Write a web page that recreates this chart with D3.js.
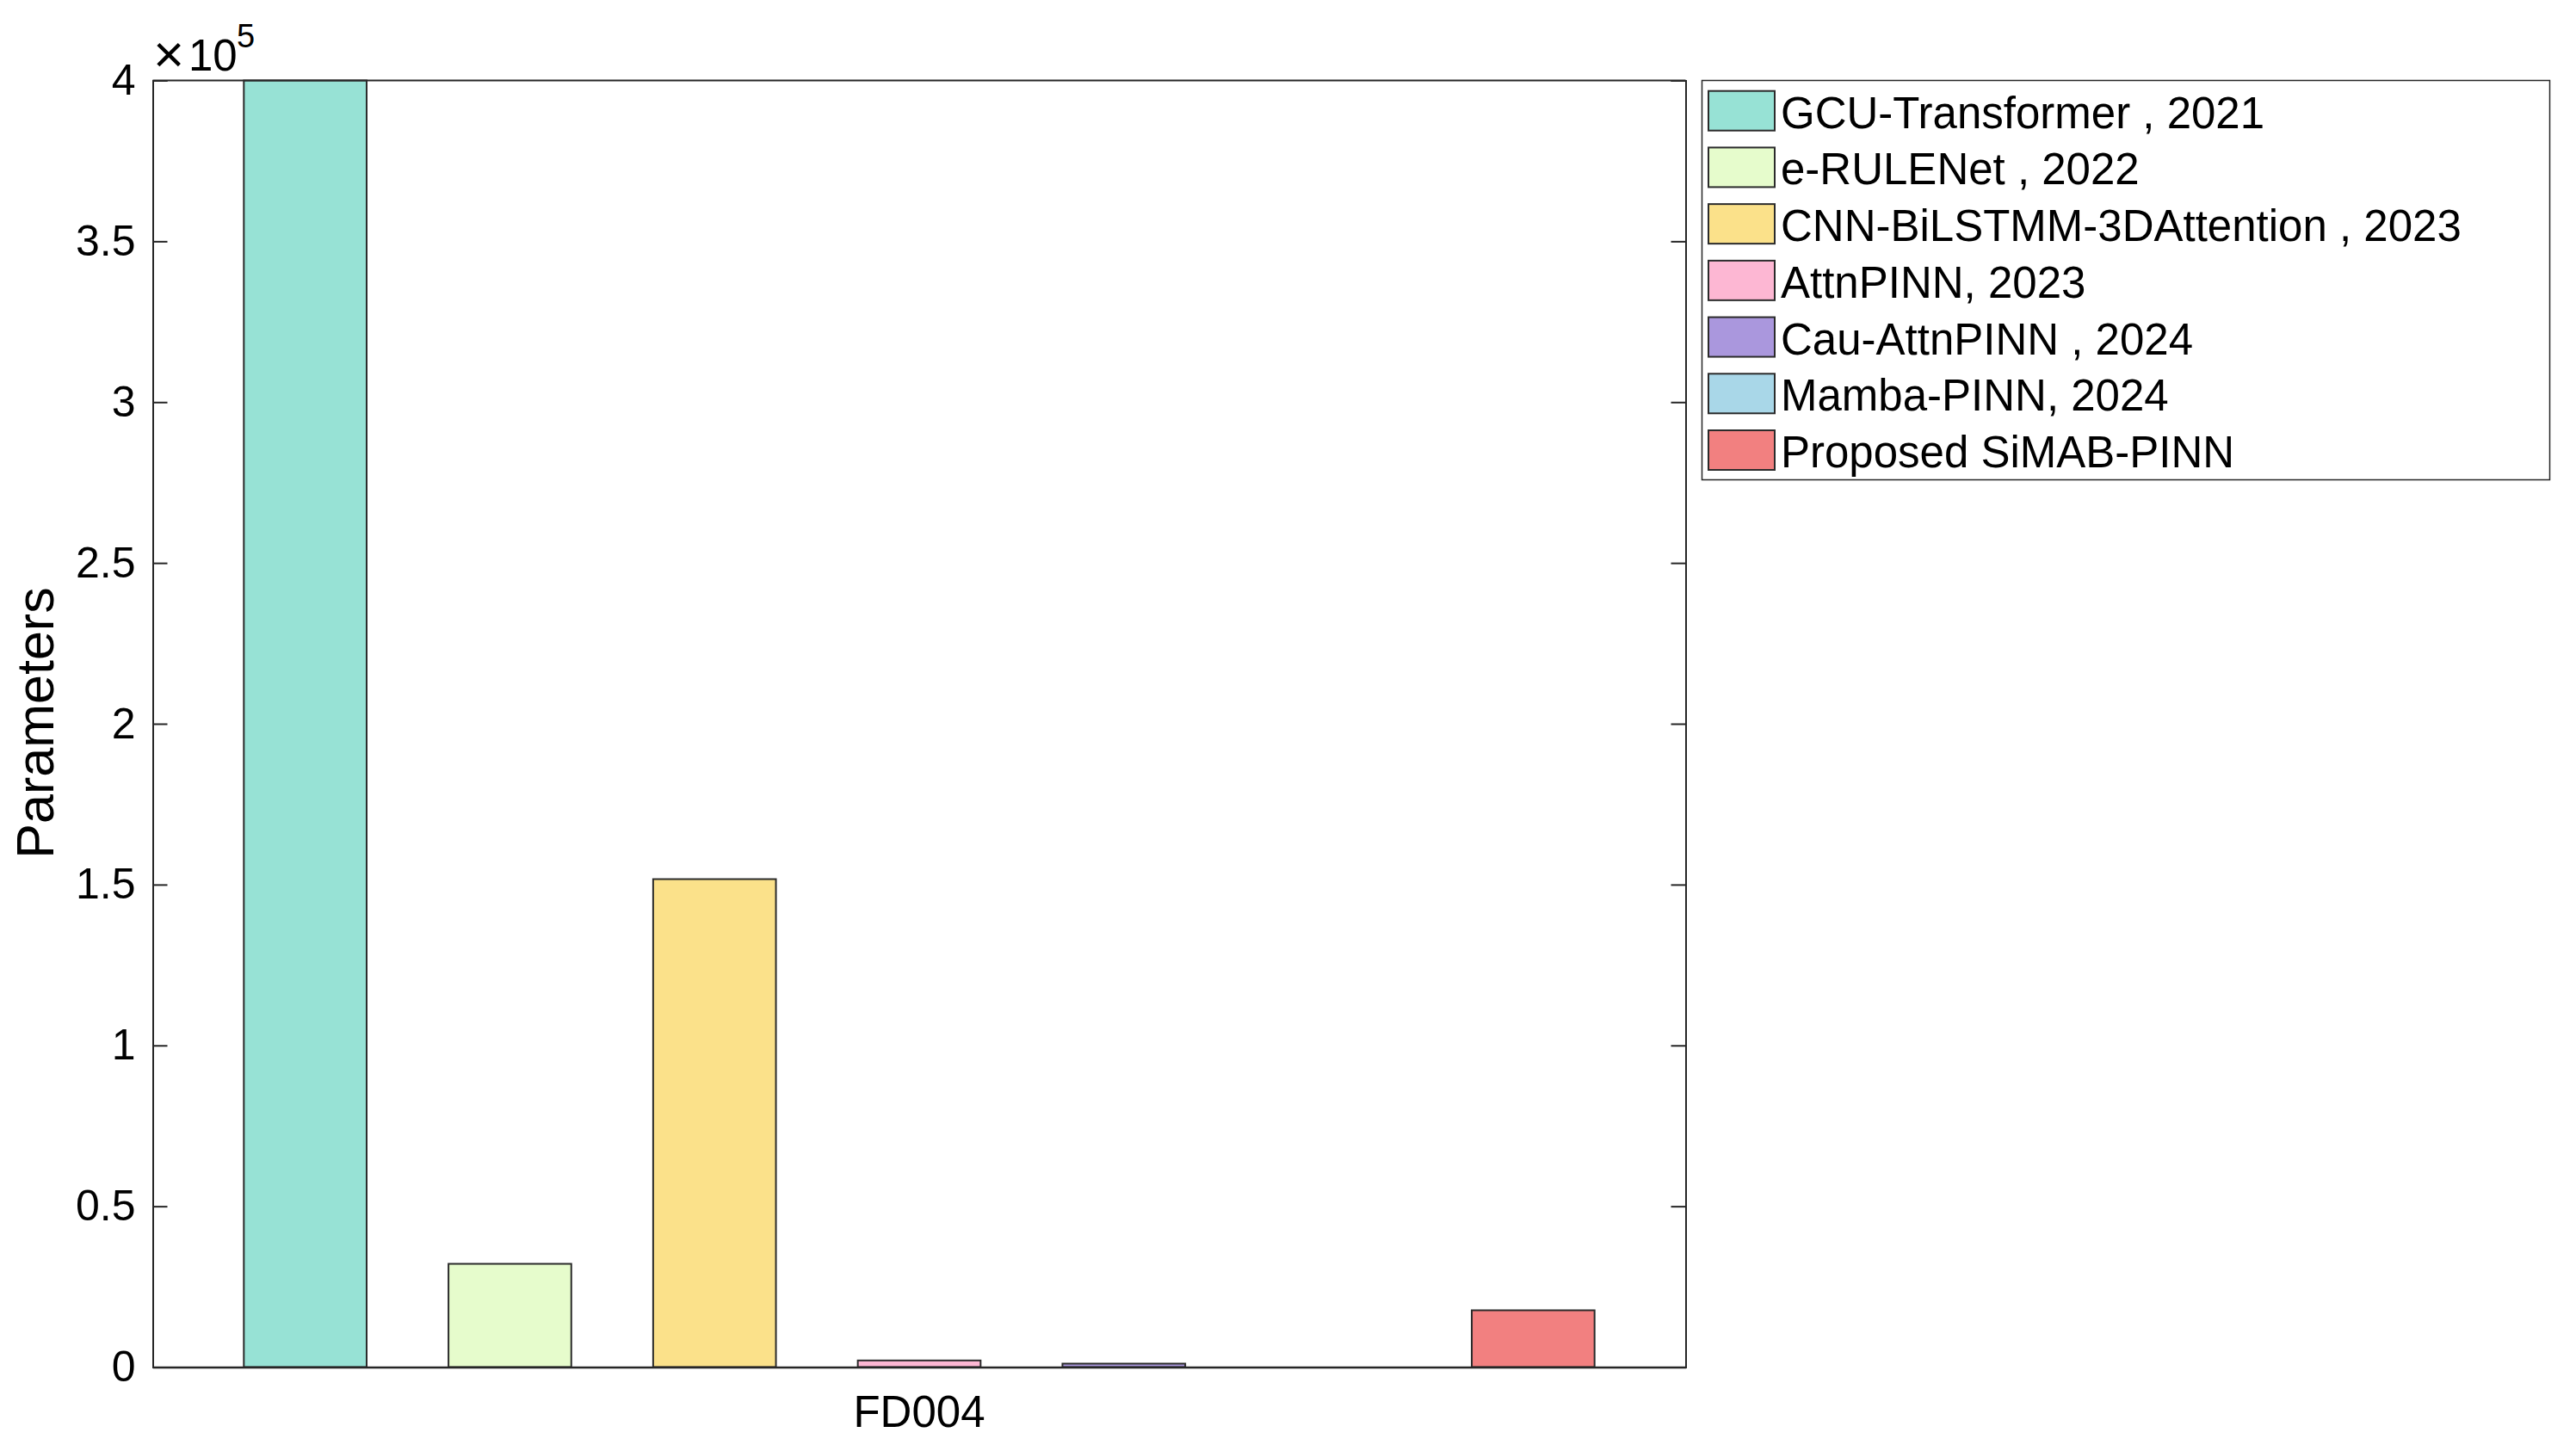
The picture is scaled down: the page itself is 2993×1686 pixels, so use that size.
<!DOCTYPE html>
<html>
<head>
<meta charset="utf-8">
<script src="https://cdn.jsdelivr.net/npm/d3@7"></script>
<style>
  html, body { margin: 0; padding: 0; background: #fff; }
  text { font-family: "Liberation Sans", Arial, Helvetica, sans-serif; fill: #000; }
</style>
</head>
<body>
<svg id="chart" width="2993" height="1686"></svg>
<script>
// ---- data ----
const category = "FD004";
const models = [
  "GCU-Transformer , 2021",
  "e-RULENet , 2022",
  "CNN-BiLSTMM-3DAttention , 2023",
  "AttnPINN, 2023",
  "Cau-AttnPINN , 2024",
  "Mamba-PINN, 2024",
  "Proposed SiMAB-PINN"
];
const params = [400000, 32100, 151700, 2060, 1070, 0, 17660];
const colors = ["#97E2D5", "#E6FCCC", "#FBE18A", "#FDB7D3", "#AA97DD", "#A9D7E8", "#F28080"];
const yTicks = [0, 50000, 100000, 150000, 200000, 250000, 300000, 350000, 400000];
const yTickLabels = ["0", "0.5", "1", "1.5", "2", "2.5", "3", "3.5", "4"];
const yLabel = "Parameters";

// ---- layout ----
const svg = d3.select("#chart");
const plot = { left: 177.5, right: 1958.5, top: 93.5, bottom: 1588.5 };
const axisColor = "#262626";

const x = d3.scaleLinear().domain([-0.745, models.length - 1 + 0.745]).range([plot.left, plot.right]);
const y = d3.scaleLinear().domain([0, 400000]).range([plot.bottom, plot.top]);
const barW = 0.6;

// bars
svg.append("g").selectAll("rect").data(params).join("rect")
  .attr("x", (d, i) => x(i - barW / 2))
  .attr("width", (d, i) => x(i + barW / 2) - x(i - barW / 2))
  .attr("y", d => y(d))
  .attr("height", d => y(0) - y(d))
  .attr("fill", (d, i) => colors[i])
  .attr("stroke", "#2b2b2b")
  .attr("stroke-width", 2);

// left axis
const yAxisL = d3.axisLeft(y).tickValues(yTicks).tickSize(-17).tickFormat((d, i) => yTickLabels[i]).tickPadding(20);
const gL = svg.append("g").attr("transform", `translate(${plot.left},0)`).call(yAxisL);
gL.select(".domain").attr("stroke", axisColor).attr("stroke-width", 2);
gL.selectAll(".tick line").attr("stroke", axisColor).attr("stroke-width", 2);
gL.selectAll(".tick text").attr("font-size", 50).attr("font-family", "Liberation Sans, Arial, sans-serif").attr("fill", "#000").attr("x", -20);

// right axis (mirrored ticks)
const yAxisR = d3.axisRight(y).tickValues(yTicks).tickSize(-17).tickFormat("");
const gR = svg.append("g").attr("transform", `translate(${plot.right},0)`).call(yAxisR);
gR.select(".domain").attr("stroke", axisColor).attr("stroke-width", 2);
gR.selectAll(".tick line").attr("stroke", axisColor).attr("stroke-width", 2);

// top and bottom axis lines
svg.append("line").attr("x1", plot.left).attr("x2", plot.right).attr("y1", plot.top).attr("y2", plot.top)
  .attr("stroke", axisColor).attr("stroke-width", 2);
const xAxis = d3.axisBottom(x).tickValues([(models.length - 1) / 2]).tickSize(0).tickPadding(0).tickFormat(() => "");
const gB = svg.append("g").attr("transform", `translate(0,${plot.bottom})`).call(xAxis);
gB.select(".domain").attr("stroke", axisColor).attr("stroke-width", 2.5);

// category label
svg.append("text").attr("x", x((models.length - 1) / 2)).attr("y", 1658)
  .attr("text-anchor", "middle").attr("font-size", 51).text(category);

// y label
svg.append("text").attr("transform", "translate(62,840) rotate(-90)")
  .attr("text-anchor", "middle").attr("font-size", 61).text(yLabel);

// exponent
svg.append("text").attr("x", 178).attr("y", 84).attr("font-size", 62).text("\u00D7");
svg.append("text").attr("x", 219).attr("y", 82).attr("font-size", 51).text("10");
svg.append("text").attr("x", 275).attr("y", 55).attr("font-size", 38).text("5");

// legend
const lg = { left: 1977.5, right: 2962.5, top: 93.5, bottom: 557.5 };
svg.append("rect").attr("x", lg.left).attr("y", lg.top).attr("width", lg.right - lg.left).attr("height", lg.bottom - lg.top)
  .attr("fill", "#fff").attr("stroke", axisColor).attr("stroke-width", 1.5);
const ly = d3.scalePoint().domain(d3.range(models.length)).range([128.7, 523]);
const items = svg.append("g").selectAll("g").data(models).join("g")
  .attr("transform", (d, i) => `translate(0,${ly(i)})`);
items.append("rect").attr("x", 1985).attr("y", -23).attr("width", 77).attr("height", 46)
  .attr("fill", (d, i) => colors[i]).attr("stroke", "#2b2b2b").attr("stroke-width", 2);
items.append("text").attr("x", 2069).attr("y", 20).attr("font-size", 51).text(d => d);
</script>
</body>
</html>
